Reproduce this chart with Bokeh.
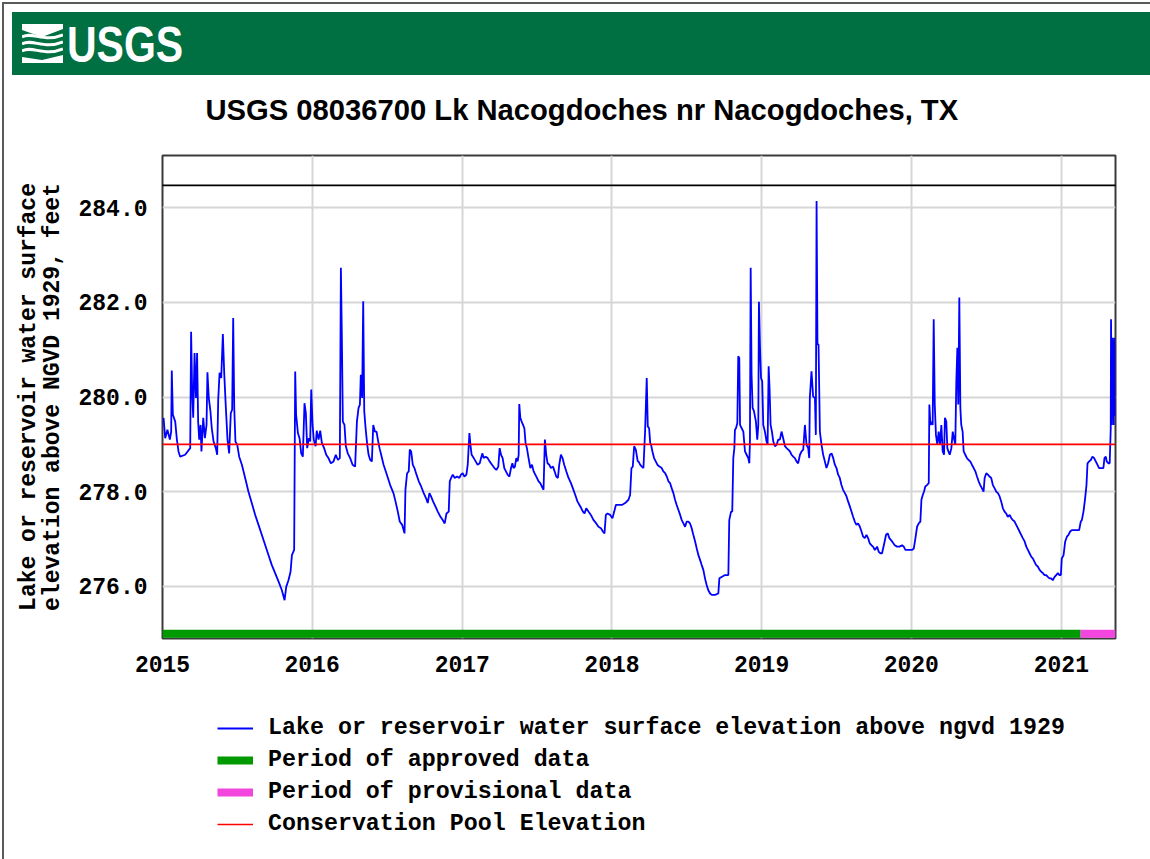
import numpy as np
import pandas as pd
from bokeh.plotting import figure
from bokeh.models import (Range1d, FixedTicker, DatetimeTickFormatter, PrintfTickFormatter,
                          Legend, LegendItem, BoxAnnotation, Div)
from bokeh.layouts import column
from bokeh.embed import file_html
from bokeh.resources import INLINE

# ---------------- data ----------------
TITLE = "USGS 08036700 Lk Nacogdoches nr Nacogdoches, TX"
Y_LABEL = "Lake or reservoir water surface\nelevation above NGVD 1929, feet"
LEGEND_LABELS = [
    "Lake or reservoir water surface elevation above ngvd 1929",
    "Period of approved data",
    "Period of provisional data",
    "Conservation Pool Elevation",
]
year_ticks = [2015, 2016, 2017, 2018, 2019, 2020, 2021]
elev_ticks = [276, 278, 280, 282, 284]
conservation_pool_ft = 279.0
status_bar_ft = 275.0
top_line_ft = 284.47
approved_period = ["2015-01-01", "2021-02-17"]
provisional_period = ["2021-02-17", "2021-05-13"]
x_limits = ["2015-01-01", "2021-05-13"]
y_limits = [274.9, 285.1]

# decimal year of each reading
YEARS = [
    2015.007, 2015.018, 2015.033, 2015.049, 2015.058, 2015.062, 2015.069, 2015.085, 2015.096, 2015.107,
    2015.118, 2015.151, 2015.185, 2015.191, 2015.198, 2015.205, 2015.214, 2015.223, 2015.231, 2015.238,
    2015.245, 2015.254, 2015.260, 2015.272, 2015.283, 2015.294, 2015.300, 2015.309, 2015.320, 2015.329,
    2015.341, 2015.356, 2015.365, 2015.372, 2015.381, 2015.392, 2015.403, 2015.412, 2015.423, 2015.434,
    2015.445, 2015.456, 2015.465, 2015.472, 2015.479, 2015.487, 2015.499, 2015.512, 2015.530, 2015.552,
    2015.574, 2015.596, 2015.619, 2015.641, 2015.663, 2015.686, 2015.708, 2015.730, 2015.752, 2015.775,
    2015.797, 2015.815, 2015.826, 2015.841, 2015.855, 2015.864, 2015.879, 2015.886, 2015.892, 2015.904,
    2015.915, 2015.926, 2015.937, 2015.948, 2015.957, 2015.966, 2015.977, 2015.986, 2015.993, 2016.002,
    2016.010, 2016.022, 2016.030, 2016.042, 2016.053, 2016.064, 2016.079, 2016.093, 2016.108, 2016.124,
    2016.142, 2016.157, 2016.171, 2016.184, 2016.191, 2016.197, 2016.204, 2016.215, 2016.224, 2016.237,
    2016.253, 2016.269, 2016.286, 2016.298, 2016.309, 2016.318, 2016.324, 2016.333, 2016.340, 2016.347,
    2016.356, 2016.367, 2016.376, 2016.387, 2016.398, 2016.407, 2016.418, 2016.429, 2016.438, 2016.449,
    2016.460, 2016.476, 2016.498, 2016.520, 2016.542,
    2016.556, 2016.571, 2016.584, 2016.600, 2016.616, 2016.622, 2016.633, 2016.644, 2016.651, 2016.660,
    2016.671, 2016.682, 2016.696, 2016.711, 2016.727, 2016.744, 2016.760, 2016.771, 2016.782, 2016.793,
    2016.807, 2016.822, 2016.838, 2016.856, 2016.871, 2016.884, 2016.896, 2016.911, 2016.918, 2016.927,
    2016.938, 2016.951, 2016.967, 2016.982, 2016.993, 2017.004, 2017.016, 2017.029, 2017.038, 2017.049,
    2017.056, 2017.064, 2017.078, 2017.091, 2017.104, 2017.118, 2017.127, 2017.136, 2017.144, 2017.158,
    2017.171, 2017.184, 2017.200, 2017.216, 2017.229, 2017.242, 2017.251, 2017.260, 2017.271, 2017.282,
    2017.293, 2017.304, 2017.316, 2017.327, 2017.336, 2017.344, 2017.353, 2017.362, 2017.371, 2017.378,
    2017.382, 2017.389, 2017.398, 2017.407, 2017.416, 2017.424, 2017.433, 2017.444, 2017.456, 2017.467,
    2017.478, 2017.489, 2017.500, 2017.511, 2017.522, 2017.533, 2017.544, 2017.553, 2017.562, 2017.571,
    2017.582, 2017.593, 2017.607, 2017.618, 2017.629, 2017.640, 2017.649, 2017.660, 2017.671, 2017.682,
    2017.696, 2017.711, 2017.727, 2017.740, 2017.756, 2017.771, 2017.784, 2017.796, 2017.807, 2017.818,
    2017.829, 2017.844, 2017.860, 2017.878, 2017.896, 2017.911, 2017.927, 2017.940, 2017.951, 2017.960,
    2017.971, 2017.989, 2018.004, 2018.016, 2018.027, 2018.044, 2018.067, 2018.089, 2018.111, 2018.122,
    2018.131, 2018.140, 2018.149, 2018.160, 2018.173,
    2018.178, 2018.189, 2018.200, 2018.211, 2018.222, 2018.233, 2018.240, 2018.249, 2018.256, 2018.262,
    2018.271, 2018.282, 2018.293, 2018.304, 2018.318, 2018.333, 2018.344, 2018.356, 2018.367, 2018.378,
    2018.389, 2018.400, 2018.411, 2018.422, 2018.433, 2018.444, 2018.456, 2018.467, 2018.478, 2018.489,
    2018.500, 2018.511, 2018.522, 2018.533, 2018.544, 2018.556, 2018.567, 2018.578, 2018.589, 2018.600,
    2018.611, 2018.622, 2018.633, 2018.644, 2018.656, 2018.667, 2018.689, 2018.711, 2018.718, 2018.733,
    2018.756, 2018.778, 2018.784, 2018.796, 2018.804, 2018.811, 2018.818, 2018.822, 2018.829, 2018.838,
    2018.844, 2018.851, 2018.856, 2018.867, 2018.878, 2018.889, 2018.900, 2018.911, 2018.918, 2018.922,
    2018.927, 2018.933, 2018.940, 2018.949, 2018.962, 2018.971, 2018.978, 2018.982, 2018.989, 2018.996,
    2019.004, 2019.011, 2019.022, 2019.033, 2019.040, 2019.047, 2019.053, 2019.060, 2019.069, 2019.078,
    2019.089, 2019.100, 2019.111, 2019.122, 2019.133, 2019.144, 2019.156, 2019.167, 2019.178, 2019.189,
    2019.200, 2019.211, 2019.222, 2019.233, 2019.244, 2019.256, 2019.267, 2019.278, 2019.289, 2019.300,
    2019.311, 2019.318, 2019.322, 2019.333, 2019.344, 2019.356, 2019.362, 2019.367, 2019.373, 2019.380,
    2019.389, 2019.400, 2019.411, 2019.422, 2019.433, 2019.444, 2019.456, 2019.467, 2019.478, 2019.489,
    2019.500, 2019.511, 2019.522, 2019.533, 2019.544, 2019.556, 2019.567, 2019.578, 2019.589, 2019.600,
    2019.611, 2019.622, 2019.633, 2019.644, 2019.656, 2019.667, 2019.678, 2019.689, 2019.700, 2019.711,
    2019.722, 2019.733, 2019.744, 2019.756,
    2019.771, 2019.782, 2019.793, 2019.804, 2019.816, 2019.831, 2019.842, 2019.853, 2019.871, 2019.889,
    2019.904, 2019.920, 2019.938, 2019.949, 2019.960, 2019.982, 2020.004, 2020.016, 2020.027, 2020.038,
    2020.049, 2020.060, 2020.067, 2020.076, 2020.084, 2020.093, 2020.104, 2020.116, 2020.120, 2020.127,
    2020.133, 2020.142, 2020.149, 2020.156, 2020.164, 2020.173, 2020.182, 2020.191, 2020.200, 2020.209,
    2020.218, 2020.224, 2020.233, 2020.240, 2020.247, 2020.256, 2020.267, 2020.276, 2020.284, 2020.293,
    2020.300, 2020.307, 2020.313, 2020.320, 2020.327, 2020.333, 2020.342, 2020.349, 2020.360, 2020.371,
    2020.382, 2020.393, 2020.404, 2020.416, 2020.427, 2020.438, 2020.449, 2020.460, 2020.471, 2020.482,
    2020.489, 2020.500, 2020.511, 2020.522, 2020.533, 2020.544, 2020.556, 2020.567, 2020.578, 2020.589,
    2020.600, 2020.611, 2020.622, 2020.633, 2020.644, 2020.656, 2020.667, 2020.678, 2020.689, 2020.700,
    2020.711, 2020.722, 2020.733, 2020.744, 2020.756, 2020.767, 2020.778, 2020.789, 2020.800, 2020.811,
    2020.822, 2020.833, 2020.844, 2020.856, 2020.867, 2020.878, 2020.889, 2020.900, 2020.911, 2020.922,
    2020.933, 2020.944, 2020.956, 2020.967, 2020.978, 2020.989, 2020.998, 2021.004, 2021.016, 2021.027,
    2021.038, 2021.049, 2021.060, 2021.071, 2021.093, 2021.120, 2021.131, 2021.138, 2021.149, 2021.160,
    2021.169, 2021.176, 2021.187, 2021.198, 2021.209, 2021.220, 2021.231, 2021.242, 2021.253, 2021.267,
    2021.282, 2021.289, 2021.298, 2021.304, 2021.316, 2021.324, 2021.331, 2021.333, 2021.338, 2021.342,
    2021.347, 2021.351, 2021.355, 2021.359,
]

# lake surface elevation, feet above NGVD 1929
ELEV_FT = [
    279.56, 279.13, 279.31, 279.10, 279.27, 280.56, 279.63, 279.48, 279.10, 278.85,
    278.74, 278.78, 278.92, 281.38, 280.12, 279.56, 280.93, 279.98, 280.93, 279.48,
    279.10, 279.41, 278.85, 279.56, 279.13, 279.41, 280.52, 279.98, 279.70, 279.34,
    279.06, 278.92, 278.78, 279.94, 280.51, 280.40, 281.33, 280.51, 279.77, 279.10,
    278.81, 279.66, 279.73, 281.67, 279.77, 279.06, 278.99, 278.74, 278.57, 278.29,
    278.00, 277.76, 277.51, 277.30, 277.09, 276.87, 276.66, 276.45, 276.28, 276.10,
    275.92, 275.71, 275.99, 276.13, 276.31, 276.66, 276.77, 280.54, 279.63, 279.24,
    279.13, 278.81, 278.74, 279.87, 279.66, 278.92, 279.13, 279.06, 280.16, 279.41,
    279.10, 278.96, 279.29, 279.10, 279.29, 279.03, 278.92, 278.78, 278.71, 278.60,
    278.64, 278.78, 278.67, 278.71, 282.73, 281.39, 279.48, 279.41, 278.96, 278.81,
    278.71, 278.57, 278.53, 279.48, 279.77, 279.84, 280.47, 279.98, 282.02, 279.70,
    279.34, 278.99, 278.78, 278.67, 278.64, 279.41, 279.27, 279.27, 279.10, 278.92,
    278.78, 278.57, 278.36, 278.14, 277.97,
    277.79, 277.58, 277.37, 277.30, 277.12, 278.04, 278.39, 278.43, 278.89, 278.85,
    278.57, 278.50, 278.36, 278.22, 278.11, 277.97, 277.86, 277.76, 277.97, 277.90,
    277.79, 277.69, 277.58, 277.47, 277.40, 277.33, 277.54, 277.58, 278.22, 278.29,
    278.36, 278.29, 278.32, 278.29, 278.36, 278.39, 278.32, 278.36, 278.57, 279.24,
    278.99, 278.78, 278.71, 278.64, 278.57, 278.60, 278.71, 278.81, 278.71, 278.74,
    278.71, 278.64, 278.57, 278.50, 278.46, 278.53, 278.92, 278.78, 278.71, 278.50,
    278.43, 278.36, 278.32, 278.50, 278.60, 278.50, 278.53, 278.71, 278.64, 278.78,
    279.85, 279.56, 279.48, 279.41, 279.34, 279.03, 278.92, 278.71, 278.50, 278.57,
    278.43, 278.36, 278.29, 278.22, 278.18, 278.11, 278.04, 279.10, 278.78, 278.60,
    278.57, 278.50, 278.53, 278.43, 278.32, 278.29, 278.57, 278.78, 278.71, 278.57,
    278.43, 278.29, 278.18, 278.07, 277.93, 277.79, 277.72, 277.65, 277.58, 277.54,
    277.65, 277.58, 277.51, 277.40, 277.33, 277.26, 277.23, 277.16, 277.12, 277.51,
    277.54, 277.51, 277.44, 277.58, 277.72, 277.72, 277.72, 277.76, 277.83, 277.93,
    278.50, 278.53, 278.96, 278.89, 278.64,
    278.64, 278.57, 278.53, 278.50, 279.27, 280.40, 279.38, 279.34, 279.03, 278.99,
    278.85, 278.71, 278.64, 278.57, 278.53, 278.50, 278.43, 278.39, 278.32, 278.22,
    278.18, 278.07, 277.97, 277.83, 277.72, 277.62, 277.51, 277.40, 277.33, 277.26,
    277.37, 277.37, 277.33, 277.23, 277.09, 276.95, 276.80, 276.66, 276.56, 276.45,
    276.35, 276.17, 276.03, 275.92, 275.85, 275.82, 275.82, 275.85, 276.17, 276.20,
    276.24, 276.24, 277.40, 277.58, 277.58, 278.71, 278.92, 279.31, 279.34, 279.45,
    280.86, 280.82, 279.41, 279.34, 279.27, 278.85, 278.78, 278.71, 278.60, 279.06,
    282.73, 280.47, 279.77, 279.70, 279.48, 279.10, 279.41, 282.01, 281.07, 280.40,
    280.33, 279.41, 279.27, 279.06, 278.99, 280.65, 280.19, 279.41, 279.27, 279.06,
    278.96, 278.99, 279.10, 279.10, 279.27, 279.13, 278.96, 278.92, 278.89, 278.85,
    278.78, 278.74, 278.71, 278.64, 278.60, 278.78, 278.85, 278.89, 279.41, 278.99,
    278.92, 278.71, 279.98, 280.54, 280.01, 279.98, 279.20, 284.14, 281.11, 281.11,
    279.27, 278.99, 278.78, 278.64, 278.50, 278.60, 278.78, 278.81, 278.71, 278.57,
    278.50, 278.36, 278.29, 278.14, 278.04, 277.97, 277.90, 277.79, 277.69, 277.58,
    277.47, 277.37, 277.30, 277.33, 277.26, 277.16, 277.05, 277.02, 277.09, 277.02,
    276.91, 276.87, 276.84, 276.77,
    276.84, 276.73, 276.70, 276.70, 276.87, 277.09, 277.12, 277.02, 276.95, 276.87,
    276.84, 276.84, 276.87, 276.84, 276.77, 276.77, 276.77, 276.80, 277.02, 277.26,
    277.33, 277.37, 277.83, 277.93, 278.00, 278.11, 278.14, 278.18, 279.84, 279.41,
    279.48, 279.41, 281.64, 279.84, 279.20, 278.99, 279.27, 278.99, 279.41, 278.85,
    278.78, 279.56, 279.48, 278.92, 278.85, 278.78, 278.92, 279.27, 279.13, 278.99,
    280.33, 281.04, 279.84, 282.10, 279.77, 279.41, 279.27, 278.85, 278.78, 278.71,
    278.67, 278.64, 278.57, 278.50, 278.43, 278.32, 278.22, 278.14, 278.07, 278.00,
    278.29, 278.39, 278.36, 278.32, 278.29, 278.14, 278.07, 278.00, 277.97, 277.90,
    277.79, 277.65, 277.58, 277.54, 277.47, 277.51, 277.44, 277.40, 277.37, 277.30,
    277.23, 277.16, 277.09, 277.02, 276.95, 276.84, 276.77, 276.70, 276.63, 276.59,
    276.52, 276.45, 276.42, 276.35, 276.31, 276.28, 276.24, 276.24, 276.20, 276.17,
    276.17, 276.13, 276.20, 276.24, 276.28, 276.24, 276.24, 276.59, 276.66, 276.95,
    277.05, 277.09, 277.16, 277.19, 277.19, 277.19, 277.37, 277.40, 277.58, 277.86,
    278.14, 278.60, 278.64, 278.67, 278.74, 278.71, 278.64, 278.57, 278.50, 278.50,
    278.50, 278.71, 278.74, 278.64, 278.60, 278.60, 279.34, 281.64, 279.41, 281.25,
    280.68, 279.41, 281.25, 279.60,
]

# ---------------- helpers ----------------
BASE = pd.Timestamp("2015-01-01")
dates = [BASE + pd.Timedelta(days=(y - 2015.0) * 365.25) for y in YEARS]
def ts(s):
    return pd.Timestamp(s)
def ms(t):
    return pd.Timestamp(t).value / 1e6

MONO = "Liberation Mono"
SANS = "Liberation Sans"
GREEN_BANNER = "#006F41"
EDGE = "#5a5a5a"
BLUE, RED, GREEN, PINK = "#0000FF", "#FF0000", "#009900", "#F346DE"

# ---------------- banner (HTML, overlays the empty top border of the chart) ----------------
logo_svg = (
    '<svg style="position:absolute;left:22px;top:24px;z-index:12;" width="41" height="39" viewBox="0 0 41 39">'
    '<polygon points="0,0 41,0 41,5 20,13 0,6" fill="white"/>'
    '<path d="M0 13 C10 7, 22 19, 41 11" stroke="white" stroke-width="3" fill="none"/>'
    '<path d="M0 20 C10 14, 22 26, 41 18" stroke="white" stroke-width="3" fill="none"/>'
    '<path d="M0 27 C10 21, 22 33, 41 25" stroke="white" stroke-width="3" fill="none"/>'
    '<polygon points="0,33 20,36 41,31 41,39 0,39" fill="white"/>'
    '</svg>'
)
banner_html = (
    '<div style="position:relative;width:1150px;height:40px;">'
    f'<div style="position:absolute;left:2px;top:2px;width:1148px;height:2px;background:{EDGE};z-index:10;"></div>'
    f'<div style="position:absolute;left:2px;top:2px;width:2px;height:857px;background:{EDGE};z-index:10;"></div>'
    f'<div style="position:absolute;left:12px;top:12px;width:1138px;height:63px;background:{GREEN_BANNER};z-index:11;"></div>'
    + logo_svg +
    '<div style="position:absolute;left:67px;top:20px;z-index:12;font-family:\'Liberation Sans\';font-weight:bold;'
    'font-size:50px;line-height:50px;color:white;transform:scaleX(0.82);transform-origin:left top;">USGS</div>'
    '</div>'
)
banner = Div(text=banner_html, width=1150, height=40, margin=0)

# ---------------- main chart ----------------
p = figure(width=1150, height=649, x_axis_type="datetime",
           x_range=Range1d(ts(x_limits[0]), ts(x_limits[1])),
           y_range=Range1d(y_limits[0], y_limits[1]),
           toolbar_location=None, output_backend="svg", title=TITLE,
           min_border_left=162, min_border_right=35, min_border_top=115, min_border_bottom=51)
p.background_fill_color = "white"
p.border_fill_alpha = 0
p.outline_line_color = "#3a3a3a"
p.outline_line_width = 2

p.title.text_font = SANS
p.title.text_font_size = "29.2px"
p.title.text_font_style = "bold"
p.title.text_color = "black"
p.title.align = "left"
p.title.offset = 43
p.title.standoff = 59

p.xaxis.ticker = FixedTicker(ticks=[ms(f"{y}-01-01") for y in year_ticks])
p.xaxis.formatter = DatetimeTickFormatter(years="%Y", months="%Y", days="%Y", hours="%Y",
                                          hourmin="%Y", minutes="%Y", minsec="%Y", seconds="%Y",
                                          milliseconds="%Y", microseconds="%Y")
p.yaxis.ticker = FixedTicker(ticks=elev_ticks)
p.yaxis.formatter = PrintfTickFormatter(format="%.1f")
for ax in (p.xaxis, p.yaxis):
    ax.axis_line_color = None
    ax.major_tick_line_color = None
    ax.minor_tick_line_color = None
    ax.major_tick_in = 0
    ax.major_tick_out = 0
    ax.minor_tick_in = 0
    ax.minor_tick_out = 0
    ax.major_label_text_font = MONO
    ax.major_label_text_font_style = "bold"
    ax.major_label_text_font_size = "23px"
    ax.major_label_text_color = "black"
p.xaxis.major_label_standoff = 17
p.yaxis.major_label_standoff = 15
p.yaxis.axis_label = Y_LABEL
p.yaxis.axis_label_text_font = MONO
p.yaxis.axis_label_text_font_style = "bold"
p.yaxis.axis_label_text_font_size = "23px"
p.yaxis.axis_label_text_color = "black"
p.yaxis.axis_label_text_line_height = 0.93
p.yaxis.axis_label_standoff = 9

p.grid.grid_line_color = "#d6d6d6"
p.grid.grid_line_width = 2

p.line(dates, ELEV_FT, line_color=BLUE, line_width=1.8)
p.line([ts(x_limits[0]), ts(x_limits[1])], [conservation_pool_ft] * 2, line_color=RED, line_width=1.6)
p.line([ts(d) for d in approved_period], [status_bar_ft] * 2, line_color=GREEN, line_width=8)
p.line([ts(d) for d in provisional_period], [status_bar_ft] * 2, line_color=PINK, line_width=8)

# black reference line across the top of the frame
p.add_layout(BoxAnnotation(left=ms("2014-11-20"), right=ms("2021-08-10"),
                           bottom=top_line_ft - 0.02, top=top_line_ft + 0.02,
                           fill_color="black", fill_alpha=1.0, line_color=None, level="overlay"))

# ---------------- legend panel (same frame alignment as the chart) ----------------
lg = figure(width=1150, height=170, x_range=Range1d(0, 1), y_range=Range1d(0, 1),
            x_axis_location=None, y_axis_location=None, toolbar_location=None,
            output_backend="svg", min_border_left=162, min_border_right=35,
            min_border_top=0, min_border_bottom=0)
lg.grid.visible = False
lg.outline_line_color = None
lg.border_fill_alpha = 0
lg.background_fill_alpha = 0
# key renderers: their points sit outside this panel's view, only their legend swatches show
off_x, off_y = [5, 6], [5, 5]
k_lake = lg.line(off_x, off_y, line_color=BLUE, line_width=1.8)
k_appr = lg.line(off_x, off_y, line_color=GREEN, line_width=8)
k_prov = lg.line(off_x, off_y, line_color=PINK, line_width=8)
k_pool = lg.line(off_x, off_y, line_color=RED, line_width=1.6)
legend = Legend(items=[LegendItem(label=LEGEND_LABELS[0], renderers=[k_lake]),
                       LegendItem(label=LEGEND_LABELS[1], renderers=[k_appr]),
                       LegendItem(label=LEGEND_LABELS[2], renderers=[k_prov]),
                       LegendItem(label=LEGEND_LABELS[3], renderers=[k_pool])],
                location=(55, 22), orientation="vertical",
                label_text_font=MONO, label_text_font_style="bold", label_text_font_size="23.3px",
                label_text_color="black",
                glyph_width=36, glyph_height=22, label_height=22, spacing=6, padding=5,
                label_standoff=15, border_line_color=None, background_fill_alpha=0)
lg.add_layout(legend)

layout = column(banner, p, lg, spacing=0)
open("out.html", "w").write(file_html(layout, INLINE))
